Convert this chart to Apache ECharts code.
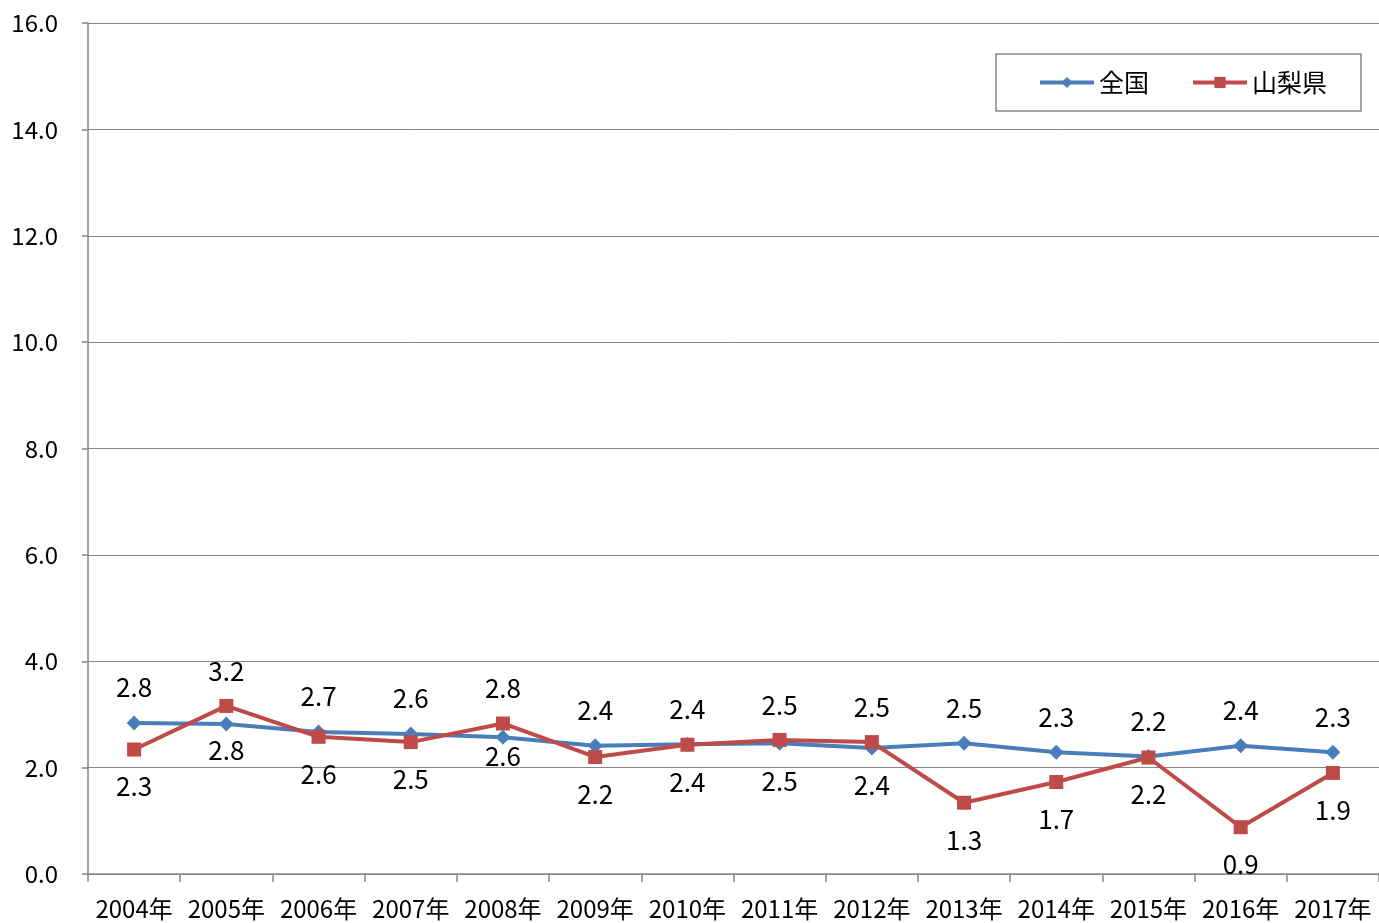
<!DOCTYPE html>
<html>
<head>
<meta charset="utf-8">
<script src="https://cdn.jsdelivr.net/npm/echarts@6/dist/echarts.min.js"></script>
<style>html,body{margin:0;padding:0;background:#fff}#c{width:1379px;height:923px}</style>
</head>
<body>
<div id="c"></div>
<script>
const categories = ['2004年','2005年','2006年','2007年','2008年','2009年','2010年','2011年','2012年','2013年','2014年','2015年','2016年','2017年'];
const nationalName = '全国';
const yamanashiName = '山梨県';
const national = [2.84, 2.82, 2.67, 2.63, 2.57, 2.41, 2.44, 2.46, 2.37, 2.46, 2.29, 2.21, 2.41, 2.29];
const yamanashi = [2.34, 3.16, 2.58, 2.48, 2.83, 2.2, 2.43, 2.52, 2.48, 1.34, 1.73, 2.19, 0.88, 1.9];
const yTicks = {min: 0, max: 16, interval: 2};

const FONT = '"Noto Sans CJK JP", "Noto Sans", sans-serif';
// label placement tweaks (style only): closer bottom labels where the lines cross
const closeBelow = {'2005年': 6, '2008年': -2};
function build(vals, other) {
  return vals.map((v, i) => {
    const top = v >= other[i];
    const d = top ? 15 : (closeBelow[categories[i]] !== undefined ? closeBelow[categories[i]] : 17);
    return {value: v, label: {position: top ? 'top' : 'bottom', distance: d}};
  });
}
const chart = echarts.init(document.getElementById('c'));
chart.setOption({
  animation: false,
  textStyle: {fontFamily: FONT},
  grid: {left: 88, right: 0, top: 23, bottom: 49, containLabel: false},
  legend: {
    left: 996, top: 54, width: 360,
    orient: 'horizontal',
    borderColor: '#888', borderWidth: 1.5,
    padding: [16, 34, 16, 42],
    itemWidth: 54, itemHeight: 14, itemGap: 42,
    lineStyle: {width: 4},
    textStyle: {fontSize: 25, color: '#000', fontFamily: FONT},
    data: [nationalName, yamanashiName]
  },
  xAxis: {
    type: 'category', data: categories, boundaryGap: true,
    axisLine: {lineStyle: {color: '#868686', width: 1.5}},
    axisTick: {show: true, length: 8, lineStyle: {color: '#868686', width: 1.5}},
    axisLabel: {fontSize: 24, color: '#000', margin: 23, interval: 0, fontFamily: FONT}
  },
  yAxis: {
    type: 'value', min: yTicks.min, max: yTicks.max, interval: yTicks.interval,
    axisLine: {show: true, lineStyle: {color: '#868686', width: 1.5}},
    axisTick: {show: true, length: 6, lineStyle: {color: '#868686', width: 1.5}},
    splitLine: {lineStyle: {color: '#868686', width: 1}},
    axisLabel: {fontSize: 24, color: '#000', margin: 30, fontFamily: FONT, formatter: v => v.toFixed(1)}
  },
  series: [
    {
      name: nationalName, type: 'line', data: build(national, yamanashi),
      symbol: 'diamond', symbolSize: 15,
      lineStyle: {color: '#4A7EBB', width: 4},
      itemStyle: {color: '#4A7EBB'},
      label: {show: true, fontSize: 26, color: '#000', fontFamily: FONT, formatter: p => p.value.toFixed(1)},
      z: 2
    },
    {
      name: yamanashiName, type: 'line', data: build(yamanashi, national),
      symbol: 'rect', symbolSize: 14,
      lineStyle: {color: '#BE4B48', width: 4},
      itemStyle: {color: '#BE4B48'},
      label: {show: true, fontSize: 26, color: '#000', fontFamily: FONT, formatter: p => p.value.toFixed(1)},
      z: 3
    }
  ]
});
</script>
</body>
</html>
